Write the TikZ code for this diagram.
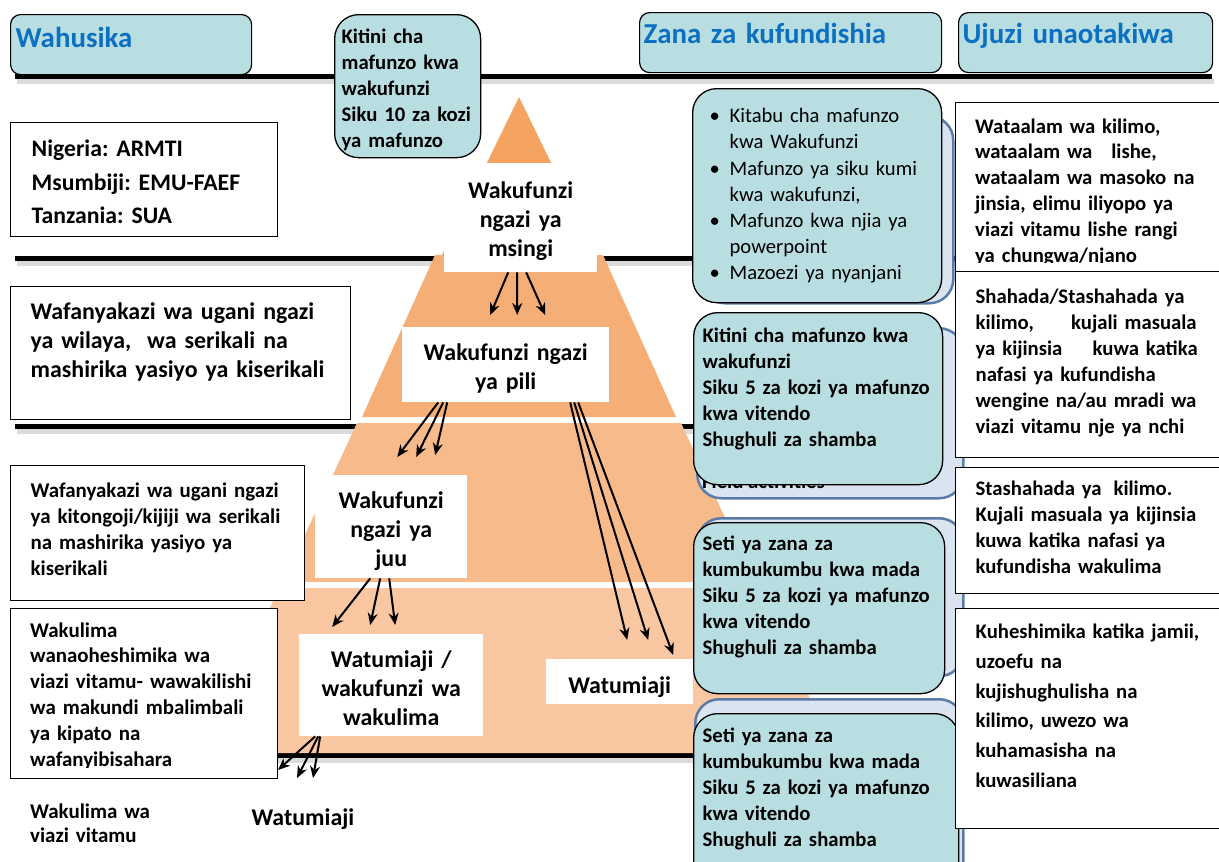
\documentclass[tikz,border=0pt]{standalone}
\usepackage{fontspec}
\setmainfont{Carlito}
\usetikzlibrary{arrows.meta}

\definecolor{headfill}{HTML}{B8DEE2}
\definecolor{headblue}{HTML}{0B6FC2}
\definecolor{backfill}{HTML}{DAE4F0}
\definecolor{backline}{HTML}{5A7CA6}
\definecolor{pyrA}{HTML}{F4A361}
\definecolor{pyrB}{HTML}{F5AE75}
\definecolor{pyrC}{HTML}{F7BB8B}
\definecolor{pyrD}{HTML}{F9C7A2}

\newcommand{\bulletmark}{\makebox[20bp][l]{\textbullet}}
\newcommand{\bulletpad}{\hspace*{20bp}}
\frenchspacing

\begin{document}
\begin{tikzpicture}[
  x=1bp, y=-1bp,
  head/.style={draw, line width=1.2bp, fill=headfill, rounded corners=10bp, anchor=north west, inner ysep=0bp, align=left, text=headblue, font=\fontsize{29}{34}\selectfont\bfseries},
  tool/.style={draw, line width=1.3bp, fill=headfill, rounded corners=24bp, anchor=north west, inner xsep=9bp, inner ysep=0bp, align=left, font=\fontsize{20.8}{26}\selectfont\bfseries},
  toolback/.style={draw=backline, line width=2.5bp, fill=backfill, rounded corners=24bp, anchor=north west, inner sep=0bp},
  actor/.style={draw, line width=1.3bp, fill=white, anchor=north west, inner xsep=20bp, inner ysep=0bp, align=left, font=\fontsize{20.8}{26}\selectfont\bfseries},
  level/.style={fill=white, anchor=north west, inner sep=0bp, align=center, font=\fontsize{24}{29.5}\selectfont\bfseries},
  arrow/.style={-{Stealth[length=12bp, width=10bp]}, line width=2bp},
  rule/.style={line width=5bp},
  ruleshade/.style={line width=5bp, black!14},
]
\useasboundingbox (0,0) rectangle (1219,862);

% rules between the rows
\foreach \y in {76,258,426,755} {
  \draw[ruleshade] (17,\y+5) -- (1214,\y+5);
  \draw[rule] (15,\y) -- (1212,\y);
}

% pyramid
\fill[pyrA] (519,97) -- (597,257) -- (441,257) -- cycle;
\fill[pyrB] (435,255) -- (603,255) -- (676,417) -- (362,417) -- cycle;
\fill[pyrC] (357,423) -- (681,423) -- (755,582) -- (283,582) -- cycle;
\fill[pyrD] (279,588) -- (759,588) -- (835,753) -- (203,753) -- cycle;

\node[level, text width=153bp, text height=35bp, text depth=74bp] (msingi) at (444,163) {Wakufunzi\\ngazi ya\\msingi};
\node[level, text width=207bp, text height=33bp, text depth=42bp] (pili) at (402,327) {Wakufunzi ngazi\\ya pili};
\node[level, text width=152bp, text height=33bp, text depth=70bp] (juu) at (315,475) {Wakufunzi\\ngazi ya\\juu};
\node[level, text width=184bp, text height=33bp, text depth=69bp] (trainer) at (299,634) {Watumiaji /\\wakufunzi wa\\wakulima};
\node[level, text width=147bp, text height=34bp, text depth=11bp] (userright) at (546,659) {Watumiaji};
\node[level, anchor=base] (userbottom) at (303,825) {Watumiaji};
\node[anchor=base west, inner sep=0bp, text width=160bp, align=left, font=\fontsize{21}{25}\selectfont\bfseries] (farmers) at (30,818) {Wakulima wa\\viazi vitamu};

% left column
\node[head, text width=231bp, inner xsep=5bp, text height=33bp, text depth=27bp] (wahusika) at (10,14) {Wahusika};
\node[actor, text width=225bp, inner xsep=21bp, text height=34bp, text depth=80bp, font=\fontsize{23.8}{33.5}\selectfont\bfseries] (inst) at (10,122) {Nigeria: ARMTI\\Msumbiji: EMU-FAEF\\Tanzania: SUA};
\node[actor, text width=300bp, text height=33bp, text depth=100bp, font=\fontsize{24}{29}\selectfont\bfseries] (district) at (10,286) {Wafanyakazi wa ugani ngazi\\ya wilaya,\ \ wa serikali na\\mashirika yasiyo ya kiserikali};
\node[actor, text width=254bp, text height=32bp, text depth=103bp, font=\fontsize{21}{26}\selectfont\bfseries] (village) at (10,465) {Wafanyakazi wa ugani ngazi\\ya kitongoji/kijiji wa serikali\\na mashirika yasiyo ya\\kiserikali};
\node[actor, text width=227bp, text height=29bp, text depth=141bp] (farm) at (10,608) {};
\begin{scope}
  \clip (farm.north west) rectangle ([yshift=12bp]farm.south east);
  \node[anchor=base west, inner sep=0bp, text width=227bp, align=left, font=\fontsize{21}{26}\selectfont\bfseries] (farmtext) at (30,637) {Wakulima\\wanaoheshimika wa\\viazi vitamu- wawakilishi\\wa makundi mbalimbali\\ya kipato na\\wafanyibisahara};
\end{scope}

\node[tool, text width=132bp, inner xsep=7bp, text height=29bp, text depth=114bp] (kitini) at (334,14) {Kitini cha\\mafunzo kwa\\wakufunzi\\Siku 10 za kozi\\ya mafunzo};

% training tools
\node[head, text width=294bp, inner xsep=4bp, text height=31bp, text depth=29bp] (zana) at (639,12) {Zana za kufundishia};
\node[toolback, minimum width=252bp, minimum height=187bp] (back1) at (700,115) {};
\node[toolback, minimum width=266bp, minimum height=170bp] (back2) at (696,327) {};
\node[toolback, minimum width=266bp, minimum height=158bp] (back3) at (696,517) {};
\node[toolback, minimum width=268bp, minimum height=200bp] (back4) at (694,698) {};
\node[anchor=base west, inner sep=0bp, font=\fontsize{20.8}{26}\selectfont\bfseries] (field) at (702,488) {Field activities};

\node[tool, text width=215bp, inner xsep=17bp, text height=34bp, text depth=180bp, font=\fontsize{20.7}{26.3}\selectfont] (tools1) at (692,88) {\bulletmark Kitabu cha mafunzo\\\bulletpad kwa Wakufunzi\\\bulletmark Mafunzo ya siku kumi\\\bulletpad kwa wakufunzi,\\\bulletmark Mafunzo kwa njia ya\\\bulletpad powerpoint\\\bulletmark Mazoezi ya nyanjani};
\node[tool, text width=231bp, text height=30bp, text depth=142bp] (tools2) at (693,312) {Kitini cha mafunzo kwa\\wakufunzi\\Siku 5 za kozi ya mafunzo\\kwa vitendo\\Shughuli za shamba};
\node[tool, text width=233bp, text height=28bp, text depth=143bp] (tools3) at (693,522) {Seti ya zana za\\kumbukumbu kwa mada\\Siku 5 za kozi ya mafunzo\\kwa vitendo\\Shughuli za shamba};
\node[tool, text width=247bp, text height=29bp, text depth=160bp] (tools4) at (693,713) {Seti ya zana za\\kumbukumbu kwa mada\\Siku 5 za kozi ya mafunzo\\kwa vitendo\\Shughuli za shamba};

% skills
\node[head, text width=246bp, inner xsep=4bp, text height=31bp, text depth=29bp] (ujuzi) at (958,12) {Ujuzi unaotakiwa};
\node[actor, text width=230bp, text height=31bp, text depth=138bp] (skill1) at (955,102) {};
\begin{scope}
  \clip (skill1.north west) rectangle ([yshift=10bp]skill1.south east);
  \node[anchor=base west, inner sep=0bp, text width=230bp, align=left, font=\fontsize{20.8}{26}\selectfont\bfseries] (skill1text) at (975,133) {Wataalam wa kilimo,\\wataalam wa\hspace{12bp} lishe,\\wataalam wa masoko na\\jinsia, elimu iliyopo ya\\viazi vitamu lishe rangi\\ya chungwa/njano};
\end{scope}
\node[actor, text width=230bp, text height=32bp, text depth=154bp] (skill2) at (955,271) {Shahada/Stashahada ya\\\makebox[221bp][l]{kilimo,\hfill kujali masuala}\\\makebox[222bp][l]{ya kijinsia\hfill kuwa katika}\\nafasi ya kufundisha\\wengine na/au mradi wa\\viazi vitamu nje ya nchi};
\node[actor, text width=230bp, text height=28bp, text depth=98bp] (skill3) at (955,467) {Stashahada ya\hspace{5bp} kilimo.\\Kujali masuala ya kijinsia\\kuwa katika nafasi ya\\kufundisha wakulima};
\node[actor, text width=230bp, text height=30bp, text depth=190bp, font=\fontsize{20.8}{29.8}\selectfont\bfseries] (skill4) at (955,608) {Kuheshimika katika jamii,\\uzoefu na\\kujishughulisha na\\kilimo, uwezo wa\\kuhamasisha na\\kuwasiliana};

% Connections
\draw[arrow] ([xshift=-12.5bp]msingi.south) -- ([xshift=-15.5bp, yshift=12bp]pili.north);
\draw[arrow] ([xshift=-3.5bp]msingi.south) -- ([xshift=11.5bp, yshift=12bp]pili.north);
\draw[arrow] ([xshift=5.5bp]msingi.south) -- ([xshift=39.5bp, yshift=12bp]pili.north);

\draw[arrow] ([xshift=-67.5bp]pili.south) -- ([xshift=6bp, yshift=18bp]juu.north);
\draw[arrow] ([xshift=-62.5bp]pili.south) -- ([xshift=25bp, yshift=18bp]juu.north);
\draw[arrow] ([xshift=-58.5bp]pili.south) -- ([xshift=44bp, yshift=20bp]juu.north);

\draw[arrow] ([xshift=64.5bp]pili.south) -- ([xshift=7.5bp, yshift=19bp]userright.north);
\draw[arrow] ([xshift=68.5bp]pili.south) -- ([xshift=28.5bp, yshift=19bp]userright.north);
\draw[arrow] ([xshift=72.5bp]pili.south) -- ([xshift=53.5bp, yshift=4bp]userright.north);

\draw[arrow] ([xshift=-21bp]juu.south) -- ([xshift=-59bp, yshift=7bp]trainer.north);
\draw[arrow] ([xshift=-11bp]juu.south) -- ([xshift=-21bp, yshift=9bp]trainer.north);
\draw[arrow] ([xshift=-2bp]juu.south) -- ([xshift=4bp, yshift=9bp]trainer.north);

\draw[arrow] ([xshift=-76bp]trainer.south) -- ([xshift=-25bp, yshift=55bp]userbottom.base);
\draw[arrow] ([xshift=-73bp]trainer.south) -- ([xshift=-6bp, yshift=47bp]userbottom.base);
\draw[arrow] ([xshift=-71bp]trainer.south) -- ([xshift=10bp, yshift=47bp]userbottom.base);

\end{tikzpicture}
\end{document}
